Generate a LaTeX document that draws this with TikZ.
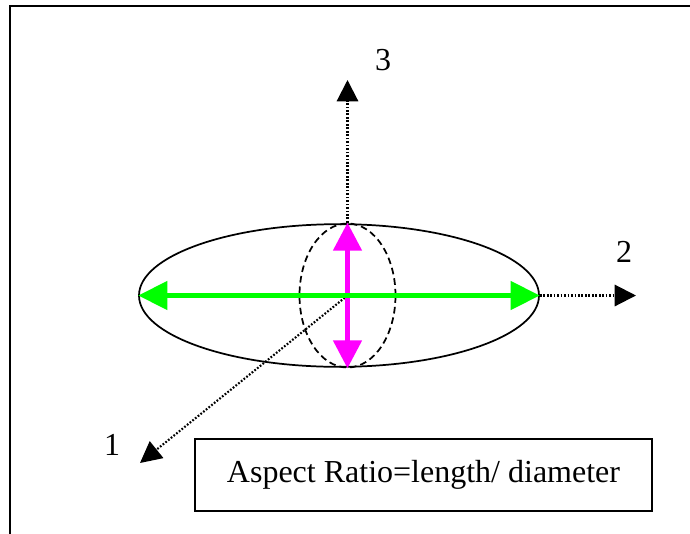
\documentclass[tikz,border=0pt]{standalone}
\usepackage{fontspec}
\setmainfont{Liberation Serif}
\usetikzlibrary{positioning,arrows.meta,shapes}
\definecolor{pinkarrow}{rgb}{1,0,1}

\begin{document}
\begin{tikzpicture}[
  x=0.75pt, y=-0.75pt,
  font=\fontsize{24}{28}\selectfont,
  frm/.style={draw=black, line width=1.4pt},
  shp/.style={ellipse, draw=black, line width=1.3pt, inner sep=0pt},
  axs/.style={draw=black, dash pattern=on 1.3pt off 1.3pt, line width=1.6pt, -{Triangle[length=16pt,width=16pt]}},
  grn/.style={draw=green, line width=3.6pt, {Triangle[length=22pt,width=21pt]}-{Triangle[length=22pt,width=21pt]}},
  mgn/.style={draw=pinkarrow, line width=3.6pt, {Triangle[length=21pt,width=21pt]}-{Triangle[length=21pt,width=21pt]}}
]
\useasboundingbox (0,0) rectangle (690,533);
\draw[frm] (10,540) -- (10,6) -- (700,6);

\node[shp, minimum width=300pt, minimum height=107pt] (rod) at (339,295.5) {};
\node[shp, dash pattern=on 5pt off 3pt, minimum width=72pt, minimum height=108pt] (dsk) at (347.5,295.5) {};
\coordinate (org) at (347.5,295.5);

\coordinate (tip1) at (140,463);
\coordinate (tip2) at (636,295.5);
\coordinate (tip3) at (347.5,80);

\draw[axs] (org) -- (tip1);
\draw[axs] (rod.east) -- (tip2);
\draw[axs] (dsk.north) -- (tip3);

\draw[mgn] (dsk.north) -- (dsk.south);
\draw[grn] (rod.west) -- (rod.east);

\node (lbl1) at (112,445) {1};
\node (lbl2) at (624,252) {2};
\node (lbl3) at (383,60) {3};

\node[draw=black, line width=1.4pt, minimum width=342.5pt, minimum height=54.5pt, inner sep=0pt] (txt) at (423.5,475) {Aspect Ratio=length/ diameter};
\end{tikzpicture}
\end{document}
